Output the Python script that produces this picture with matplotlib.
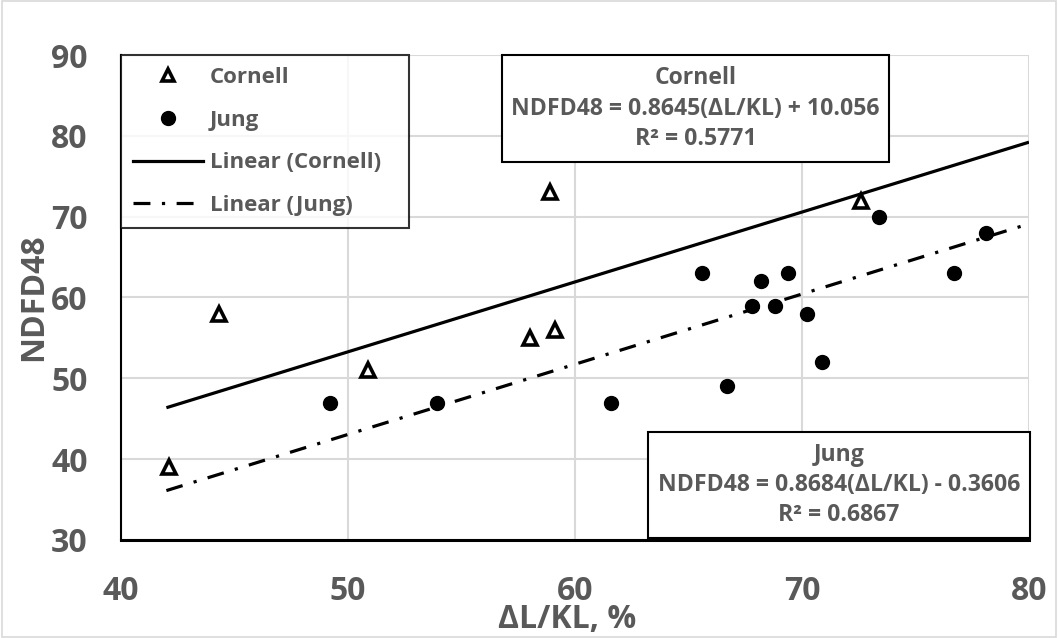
import numpy as np
import matplotlib
matplotlib.use("Agg")
import matplotlib.pyplot as plt
from matplotlib.lines import Line2D
from matplotlib.patches import Rectangle

# ----------------------- data ----------------------------------------------- #
cornell_x = [42.1, 44.3, 50.9, 58.0, 59.1, 58.9, 72.6]
cornell_y = [39, 58, 51, 55, 56, 73, 72]

jung_x = [49.2, 53.9, 61.6, 65.6, 66.7, 67.8, 68.2, 68.8, 69.4, 70.2, 70.9, 73.4, 76.7, 78.1]
jung_y = [47, 47, 47, 63, 49, 59, 62, 59, 63, 58, 52, 70, 63, 68]

# trendline coefficients as printed on the chart
cornell_fit = (0.8645, 10.056)
jung_fit = (0.8684, -0.3606)
fit_range = [42.0, 80.0]

cornell_text = "Cornell\nNDFD48 = 0.8645(\u0394L/KL) + 10.056\nR\u00b2 = 0.5771"
jung_text = "Jung\nNDFD48 = 0.8684(\u0394L/KL) - 0.3606\nR\u00b2 = 0.6867"

xticks = [40, 50, 60, 70, 80]
yticks = [30, 40, 50, 60, 70, 80, 90]

#-----------------------------------------------------------------------------#

plt.rcParams['font.family'] = ['Open Sans', 'DejaVu Sans']
plt.rcParams['font.weight'] = 'bold'
grey = '#595959'

fig = plt.figure(figsize=(10.58, 6.38), dpi=100)
W, H = 1058, 638
x0, x1, y0, y1 = 121, 1029, 55, 540          # axes box in pixels
ax = fig.add_axes([x0 / W, 1 - y1 / H, (x1 - x0) / W, (y1 - y0) / H])


def axes_xy(px, py):
    """pixel position (from top-left) -> axes fraction"""
    return (px - x0) / (x1 - x0), (y1 - py) / (y1 - y0)


# grid / spines
ax.set_xlim(40, 80)
ax.set_ylim(30, 90)
ax.set_xticks(xticks)
ax.set_yticks(yticks)
ax.grid(True, color='#d9d9d9', lw=1.5)
ax.set_axisbelow(True)
for s in ['top', 'right']:
    ax.spines[s].set_visible(False)
ax.spines['left'].set_linewidth(1.5)
ax.spines['bottom'].set_linewidth(2.2)
ax.tick_params(length=0, labelsize=23, labelcolor=grey)
ax.tick_params(axis='y', pad=24)
ax.tick_params(axis='x', pad=25)
for lab in ax.get_xticklabels() + ax.get_yticklabels():
    lab.set_fontweight('bold')

# trendlines
xf = np.array(fit_range)
ax.plot(xf, cornell_fit[0] * xf + cornell_fit[1], color='black', lw=2.3,
        solid_capstyle='butt')
dashdot = (0, (5.3, 3.6, 1.0, 3.6))
ax.plot(xf, jung_fit[0] * xf + jung_fit[1], color='black', lw=2.3,
        linestyle=dashdot, dash_capstyle='butt')

# points
ax.plot(cornell_x, cornell_y, ls='none', marker='^', ms=10, mfc='white',
        mec='black', mew=2.6, zorder=4)
ax.plot(jung_x, jung_y, ls='none', marker='o', ms=10, color='black', zorder=4)

# axis titles
ax.set_xlabel("\u0394L/KL, %", fontsize=23, color=grey, fontweight='bold')
ax.xaxis.label.set_va('center')
ax.xaxis.set_label_coords(*axes_xy(567, 619))
ax.set_ylabel("NDFD48", fontsize=23, color=grey, fontweight='bold')
ax.yaxis.label.set_va('center')
ax.yaxis.set_label_coords(*axes_xy(34, 297))

# legend
handles = [
    Line2D([], [], ls='none', marker='^', ms=9, mfc='white', mec='black', mew=2.6),
    Line2D([], [], ls='none', marker='o', ms=10, color='black'),
    Line2D([], [], color='black', lw=2.3),
    Line2D([], [], color='black', lw=2.3, linestyle=dashdot),
]
lx0, ly0 = axes_xy(121, 222)
lx1, ly1 = axes_xy(409, 55)
leg = ax.legend(handles, ["Cornell", "Jung", "Linear (Cornell)", "Linear (Jung)"],
                loc='upper left', bbox_to_anchor=(lx0, ly0, lx1 - lx0, ly1 - ly0),
                mode='expand', fontsize=16,
                frameon=True, fancybox=False, edgecolor='black',
                handlelength=3.15, handletextpad=0.3, labelspacing=0.97,
                borderpad=0.55, borderaxespad=0.0)
leg.get_frame().set_linewidth(1.5)
for t in leg.get_texts():
    t.set_color(grey)
    t.set_fontweight('bold')

# equation boxes
def eq_box(left, top, right, bottom, text):
    bx0, by0 = axes_xy(left, bottom)
    bx1, by1 = axes_xy(right, top)
    ax.add_patch(Rectangle((bx0, by0), bx1 - bx0, by1 - by0, transform=ax.transAxes,
                           fc='white', ec='black', lw=1.5, zorder=5, clip_on=False))
    ax.text((bx0 + bx1) / 2, (by0 + by1) / 2, text, transform=ax.transAxes,
            ha='center', va='center', fontsize=16.6, color=grey,
            fontweight='bold', linespacing=1.34, zorder=6)


eq_box(502, 55, 889, 162, cornell_text)
eq_box(648, 432, 1030, 538, jung_text)

# light chart-area border
fig.patches.append(Rectangle((0.002, 0.002), 0.996, 0.996, transform=fig.transFigure,
                             fill=False, ec='#d9d9d9', lw=1.2))

fig.savefig("out.png", dpi=100)
